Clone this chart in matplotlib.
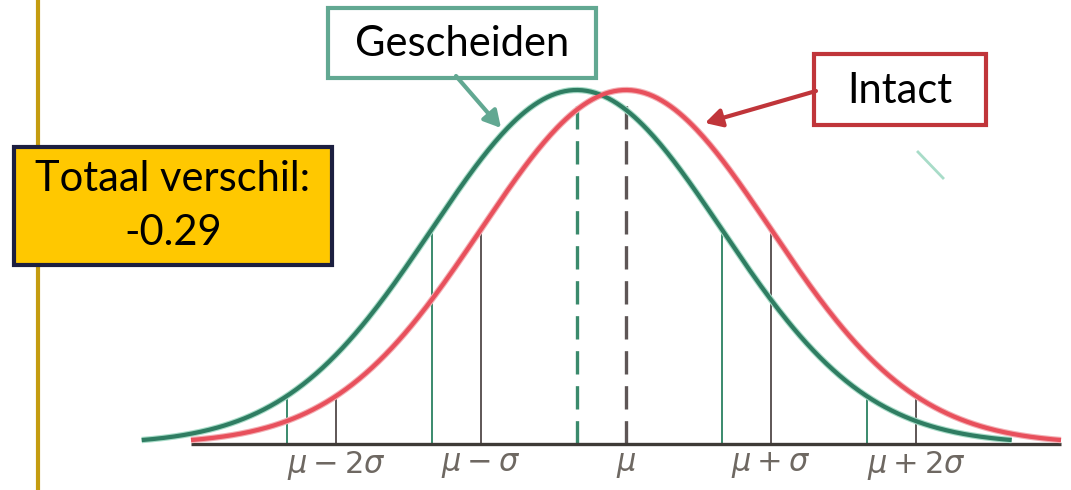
import numpy as np
import matplotlib.pyplot as plt
from matplotlib.patches import Rectangle

# Data (in standard-deviation units, Intact mean = 0)
groups = ['Gescheiden', 'Intact']
means = [-0.34, 0.0]
sds = [1.0, 1.0]
sd_steps = [-2, -1, 1, 2]
tick_steps = [-2, -1, 0, 1, 2]
tick_labels = [r'$\mu - 2\sigma$', r'$\mu - \sigma$', r'$\mu$',
               r'$\mu + \sigma$', r'$\mu + 2\sigma$']
verschil = -0.29

curve_colors = ['#2f7d62', '#e8505c']
halo_colors = ['#a8dcc8', '#f3b0b5']
line_colors = ['#3a8a6c', '#5e5656']
box_edges = ['#62a892', '#c0353a']

W, H = 1071, 490
px_per_sd = 145.0
x_mean = 626.0
base = 444.0
peak = 354.0

fig = plt.figure(figsize=(W / 100, H / 100), dpi=100)
ax = fig.add_axes([0, 0, 1, 1])
ax.set_xlim(-x_mean / px_per_sd, (W - x_mean) / px_per_sd)
ax.set_ylim(-(H - base) / peak, base / peak)
ax.axis('off')

def bell(x, m, s):
    return np.exp(-0.5 * ((x - m) / s) ** 2)

# axis line under the Intact curve
ax.plot([means[1] - 3 * sds[1], means[1] + 3 * sds[1]], [0, 0],
        color='#3e3a36', lw=2.4, zorder=3, solid_capstyle='butt')

for i in range(2):
    m, s = means[i], sds[i]
    x = np.linspace(m - 3 * s, m + 3 * s, 400)
    ax.plot(x, bell(x, m, s), color=halo_colors[i], lw=4.6, zorder=4,
            solid_capstyle='butt')
    ax.plot(x, bell(x, m, s), color=curve_colors[i], lw=3.0, zorder=5,
            solid_capstyle='butt')
    for k in sd_steps:
        xv = m + k * s
        ax.plot([xv, xv], [0, bell(xv, m, s)], color=line_colors[i],
                lw=1.4, zorder=2)
    ax.plot([m, m], [0, 0.99], color=line_colors[i], lw=2.4,
            dashes=(7, 3.5), zorder=2)

for k, lab in zip(tick_steps, tick_labels):
    ax.text(means[1] + k * sds[1], -0.06, lab, ha='center', va='center',
            fontsize=22, color='#6e6862')

# overlay in pixel coordinates for the annotations
ov = fig.add_axes([0, 0, 1, 1])
ov.set_xlim(0, W)
ov.set_ylim(H, 0)
ov.axis('off')
ov.patch.set_alpha(0)

ov.plot([38, 38], [0, H], color='#c49c10', lw=3, zorder=1)
ov.plot([918, 943], [152, 178], color='#a8dcc8', lw=2, zorder=1)

ov.add_patch(Rectangle((14, 147), 318, 118, facecolor='#ffc800',
                       edgecolor='#1c1f40', lw=3, zorder=3))
ov.text(173, 179, 'Totaal verschil:', ha='center', va='center',
        fontsize=30, family='Lato', zorder=4)
ov.text(173, 233, f'{verschil:.2f}', ha='center', va='center',
        fontsize=30, family='Lato', zorder=4)

ov.add_patch(Rectangle((328, 8), 268, 70, facecolor='white',
                       edgecolor=box_edges[0], lw=3, zorder=3))
ov.text(462, 44, groups[0], ha='center', va='center', fontsize=30,
        family='Lato', zorder=4)
ov.annotate('', xy=(501, 128), xytext=(456, 76),
            arrowprops=dict(arrowstyle='-|>,head_length=1.0,head_width=0.55',
                            color=box_edges[0], lw=3, shrinkA=0, shrinkB=0))

ov.add_patch(Rectangle((814, 54), 172, 71, facecolor='white',
                       edgecolor=box_edges[1], lw=3, zorder=3))
ov.text(900, 91, groups[1], ha='center', va='center', fontsize=30,
        family='Lato', zorder=4)
ov.annotate('', xy=(705, 123), xytext=(816, 91),
            arrowprops=dict(arrowstyle='-|>,head_length=1.0,head_width=0.55',
                            color=box_edges[1], lw=3, shrinkA=0, shrinkB=0))

fig.savefig('out.png', dpi=100)
